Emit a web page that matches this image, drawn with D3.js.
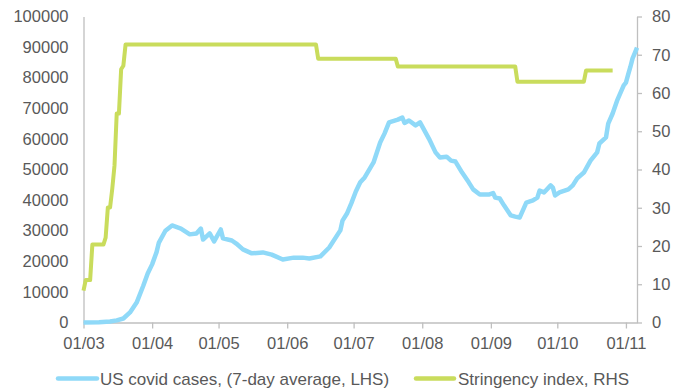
<!DOCTYPE html>
<html>
<head>
<meta charset="utf-8">
<script src="https://cdn.jsdelivr.net/npm/d3@7"></script>
<style>
  html, body { margin: 0; padding: 0; background: #ffffff; }
  svg { display: block; font-family: "Liberation Sans", Arial, sans-serif; }
</style>
</head>
<body>
<svg id="chart" width="675" height="392"></svg>
<script>
// US daily covid cases, 7-day average (left axis)
const caseDates = [
  "2020-03-01","2020-03-08","2020-03-13","2020-03-16","2020-03-19","2020-03-22","2020-03-25",
  "2020-03-28","2020-03-30","2020-04-01","2020-04-03","2020-04-04","2020-04-07","2020-04-10",
  "2020-04-14","2020-04-18","2020-04-21","2020-04-23","2020-04-24","2020-04-27","2020-04-29",
  "2020-05-02","2020-05-03","2020-05-07","2020-05-09","2020-05-12","2020-05-16","2020-05-21",
  "2020-05-25","2020-05-30","2020-06-04","2020-06-08","2020-06-11","2020-06-16","2020-06-20",
  "2020-06-25","2020-06-26","2020-06-28","2020-06-30","2020-07-02","2020-07-04","2020-07-06",
  "2020-07-10","2020-07-13","2020-07-15","2020-07-17","2020-07-21","2020-07-23","2020-07-24",
  "2020-07-26","2020-07-29","2020-07-31","2020-08-04","2020-08-07","2020-08-09","2020-08-12",
  "2020-08-14","2020-08-16","2020-08-19","2020-08-22","2020-08-24","2020-08-27","2020-08-31",
  "2020-09-02","2020-09-03","2020-09-05","2020-09-07","2020-09-10","2020-09-12","2020-09-14",
  "2020-09-15","2020-09-17","2020-09-20","2020-09-22","2020-09-23","2020-09-25","2020-09-28",
  "2020-09-29","2020-09-30","2020-10-02","2020-10-06","2020-10-08","2020-10-10","2020-10-13",
  "2020-10-16","2020-10-19","2020-10-20","2020-10-23","2020-10-24","2020-10-26","2020-10-28",
  "2020-10-31","2020-11-01","2020-11-02","2020-11-03","2020-11-04","2020-11-05","2020-11-06"
];
const caseValues = [
  0, 100, 300, 700, 1300, 3300, 6500,
  12000, 16000, 19000, 23000, 26000, 30000, 31700,
  30700, 28800, 29100, 30700, 27100, 29100, 26500,
  30400, 27500, 26800, 25800, 23900, 22600, 22900,
  22200, 20600, 21200, 21200, 20900, 21600, 24500,
  30100, 33300, 35600, 39000, 42800, 45800, 47400,
  52300, 58800, 61800, 65400, 66300, 67000, 65200,
  66000, 64400, 65400, 60100, 55600, 53900, 54200,
  52900, 52600, 49000, 45800, 43500, 41800, 41800,
  42300, 40800, 40500, 38200, 35000, 34600, 34300,
  35900, 39200, 39900, 40800, 43100, 42500, 44800,
  44100, 41500, 42500, 43500, 44800, 47100, 49000,
  52900, 55600, 58500, 60500, 65000, 68300, 72500,
  77500, 78400, 81000, 83500, 86300, 88000, 89800
];

// Stringency index (right axis)
const stringencyDates = [
  "2020-03-01","2020-03-02","2020-03-04","2020-03-05","2020-03-10","2020-03-11","2020-03-12",
  "2020-03-13","2020-03-14","2020-03-15","2020-03-16","2020-03-17","2020-03-18","2020-03-19",
  "2020-03-20","2020-06-14","2020-06-15","2020-07-20","2020-07-21","2020-09-12","2020-09-13",
  "2020-10-13","2020-10-14","2020-10-26"
];
const stringencyValues = [
  8.33, 11.11, 11.11, 20.37, 20.37, 22.2, 30.09,
  30.09, 35, 41, 54.63, 54.63, 66.2, 67.13,
  72.69, 72.69, 68.98, 68.98, 66.9, 66.9, 62.96,
  62.96, 65.9, 65.9
];

const leftTicks = [0, 10000, 20000, 30000, 40000, 50000, 60000, 70000, 80000, 90000, 100000];
const rightTicks = [0, 10, 20, 30, 40, 50, 60, 70, 80];
const monthTicks = ["2020-03-01","2020-04-01","2020-05-01","2020-06-01","2020-07-01",
                    "2020-08-01","2020-09-01","2020-10-01","2020-11-01"];

const seriesNames = ["US covid cases, (7-day average, LHS)", "Stringency index, RHS"];

const parse = d3.utcParse("%Y-%m-%d");
const fmtMonth = d3.utcFormat("%d/%m");

const casesColor = "#8fd9f8";
const stringencyColor = "#c9dc5c";
const axisColor = "#bfbfbf";
const textColor = "#595959";

const svg = d3.select("#chart");
const plot = { left: 83.5, right: 637, top: 16.5, bottom: 322.5 };

const x = d3.scaleUtc()
  .domain([parse("2020-03-01"), parse("2020-11-06")])
  .range([plot.left, plot.right]);
const yL = d3.scaleLinear().domain([0, 100000]).range([plot.bottom, plot.top]);
const yR = d3.scaleLinear().domain([0, 80]).range([plot.bottom, plot.top]);

function styleAxis(g) {
  g.selectAll("path, line").attr("stroke", axisColor).attr("stroke-width", 1.3);
  g.selectAll("text").attr("fill", textColor).style("font-size", "16.5px")
    .style("font-family", "'Liberation Sans', Arial, sans-serif");
}

// left axis (no tick marks)
svg.append("g")
  .attr("transform", `translate(${plot.left},0)`)
  .call(d3.axisLeft(yL).tickValues(leftTicks).tickSize(0).tickPadding(15).tickFormat(d3.format("d")))
  .call(styleAxis);

// right axis
svg.append("g")
  .attr("transform", `translate(${plot.right},0)`)
  .call(d3.axisRight(yR).tickValues(rightTicks).tickSize(5).tickSizeOuter(0).tickPadding(10))
  .call(styleAxis);

// bottom axis
svg.append("g")
  .attr("transform", `translate(0,${plot.bottom})`)
  .call(d3.axisBottom(x).tickValues(monthTicks.map(parse)).tickFormat(fmtMonth)
        .tickSize(6).tickSizeOuter(0).tickPadding(9))
  .call(styleAxis);

svg.selectAll(".domain").attr("fill", "none");

const casesData = caseDates.map((d, i) => ({ date: parse(d), value: caseValues[i] }));
const stringencyData = stringencyDates.map((d, i) => ({ date: parse(d), value: stringencyValues[i] }));

svg.append("path")
  .datum(casesData)
  .attr("fill", "none")
  .attr("stroke", casesColor)
  .attr("stroke-width", 4.5)
  .attr("stroke-linejoin", "round")
  .attr("d", d3.line().x(d => x(d.date)).y(d => yL(d.value)));

svg.append("path")
  .datum(stringencyData)
  .attr("fill", "none")
  .attr("stroke", stringencyColor)
  .attr("stroke-width", 4)
  .attr("stroke-linejoin", "round")
  .attr("d", d3.line().x(d => x(d.date)).y(d => yR(d.value)));

// legend
const legendItems = [
  { name: seriesNames[0], color: casesColor, x0: 58, x1: 97, tx: 100 },
  { name: seriesNames[1], color: stringencyColor, x0: 416, x1: 454, tx: 458 }
];
const legend = svg.append("g");
legendItems.forEach(it => {
  legend.append("line")
    .attr("x1", it.x0).attr("x2", it.x1).attr("y1", 378.5).attr("y2", 378.5)
    .attr("stroke", it.color).attr("stroke-width", 4.5).attr("stroke-linecap", "round");
  legend.append("text")
    .attr("x", it.tx).attr("y", 384.5)
    .attr("fill", textColor)
    .style("font-size", "17px")
    .text(it.name);
});
</script>
</body>
</html>
